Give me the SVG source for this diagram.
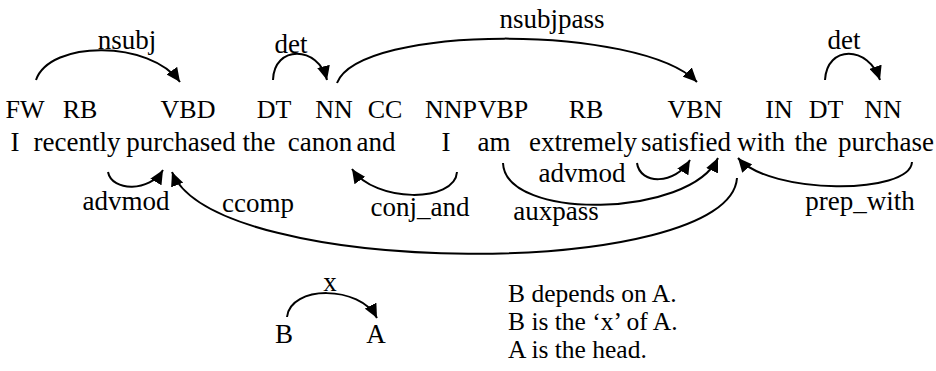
<svg xmlns="http://www.w3.org/2000/svg" width="936" height="371" viewBox="0 0 936 371" font-family="'Liberation Serif', 'Times New Roman', 'DejaVu Serif', serif">
<style>
text{font-family:'Liberation Serif','Times New Roman','DejaVu Serif',serif;font-size:27px;fill:#000}
.m{text-anchor:middle}
.t{font-size:26px}
.l{font-size:25.5px}
.arc{fill:none;stroke:#000;stroke-width:2}
</style>
<defs>
<marker id="ah" markerUnits="userSpaceOnUse" markerWidth="15" markerHeight="13" refX="14" refY="6.5" orient="auto">
<path d="M0,0 L14,6.5 L0,13 z" fill="#000"/>
</marker>
</defs>
<rect width="936" height="371" fill="#fff"/>
<g id="tags">
<text class="m t" x="25" y="118">FW</text>
<text class="m t" x="80" y="118">RB</text>
<text class="m t" x="188" y="118">VBD</text>
<text class="m t" x="274" y="118">DT</text>
<text class="m t" x="334" y="118">NN</text>
<text class="m t" x="385" y="118">CC</text>
<text class="m t" x="451" y="118">NNP</text>
<text class="m t" x="503" y="118">VBP</text>
<text class="m t" x="586" y="118">RB</text>
<text class="m t" x="695" y="118">VBN</text>
<text class="m t" x="779" y="118">IN</text>
<text class="m t" x="826" y="118">DT</text>
<text class="m t" x="883" y="118">NN</text>
</g>
<g id="words">
<text class="m" x="15" y="151">I</text>
<text class="m" x="77" y="151">recently</text>
<text class="m" x="181" y="151">purchased</text>
<text class="m" x="259" y="151">the</text>
<text class="m" x="320" y="151">canon</text>
<text class="m" x="376" y="151">and</text>
<text class="m" x="446" y="151">I</text>
<text class="m" x="494" y="151">am</text>
<text class="m" x="583" y="151">extremely</text>
<text class="m" x="686" y="151">satisfied</text>
<text class="m" x="761" y="151">with</text>
<text class="m" x="811" y="151">the</text>
<text class="m" x="886" y="151">purchase</text>
</g>
<g id="connectors">
<path class="arc" marker-end="url(#ah)" d="M36,80 C50,40 150,40 180,82"/>
<path class="arc" marker-end="url(#ah)" d="M273,80 C274,45 318,45 327,80"/>
<path class="arc" marker-end="url(#ah)" d="M337,83 C360,24 640,24 697,82"/>
<path class="arc" marker-end="url(#ah)" d="M825,80 C827,45 868,45 880,80"/>
<path class="arc" marker-end="url(#ah)" d="M108,172 C112,192 150,192 163,170"/>
<path class="arc" marker-end="url(#ah)" d="M737,178 C730,280 215,280 172,172"/>
<path class="arc" marker-end="url(#ah)" d="M457,172 C455,203 375,203 352,169"/>
<path class="arc" marker-end="url(#ah)" d="M503,163 C505,221 690,218 718,158"/>
<path class="arc" marker-end="url(#ah)" d="M637,163 C640,185 675,185 690,160"/>
<path class="arc" marker-end="url(#ah)" d="M912,162 C910,195 770,195 738,158"/>
<path class="arc" marker-end="url(#ah)" d="M287,317 C290,285 360,285 377,318"/>
</g>
<g id="labels">
<text class="m" x="127" y="49">nsubj</text>
<text class="m" x="291" y="53">det</text>
<text class="m" x="552" y="28">nsubjpass</text>
<text class="m" x="844" y="49">det</text>
<text class="m" x="126" y="210">advmod</text>
<text class="m" x="258" y="212">ccomp</text>
<text class="m" x="420" y="216">conj_and</text>
<text class="m" x="556" y="220">auxpass</text>
<text class="m" x="582" y="182">advmod</text>
<text class="m" x="860" y="210">prep_with</text>
</g>
<g id="legend">
<text class="m" x="330" y="291">x</text>
<text class="m" x="284" y="343">B</text>
<text class="m" x="376" y="343">A</text>
<text class="l" x="508" y="302">B depends on A.</text>
<text class="l" x="508" y="330">B is the ‘x’ of A.</text>
<text class="l" x="508" y="358">A is the head.</text>
</g>
</svg>
